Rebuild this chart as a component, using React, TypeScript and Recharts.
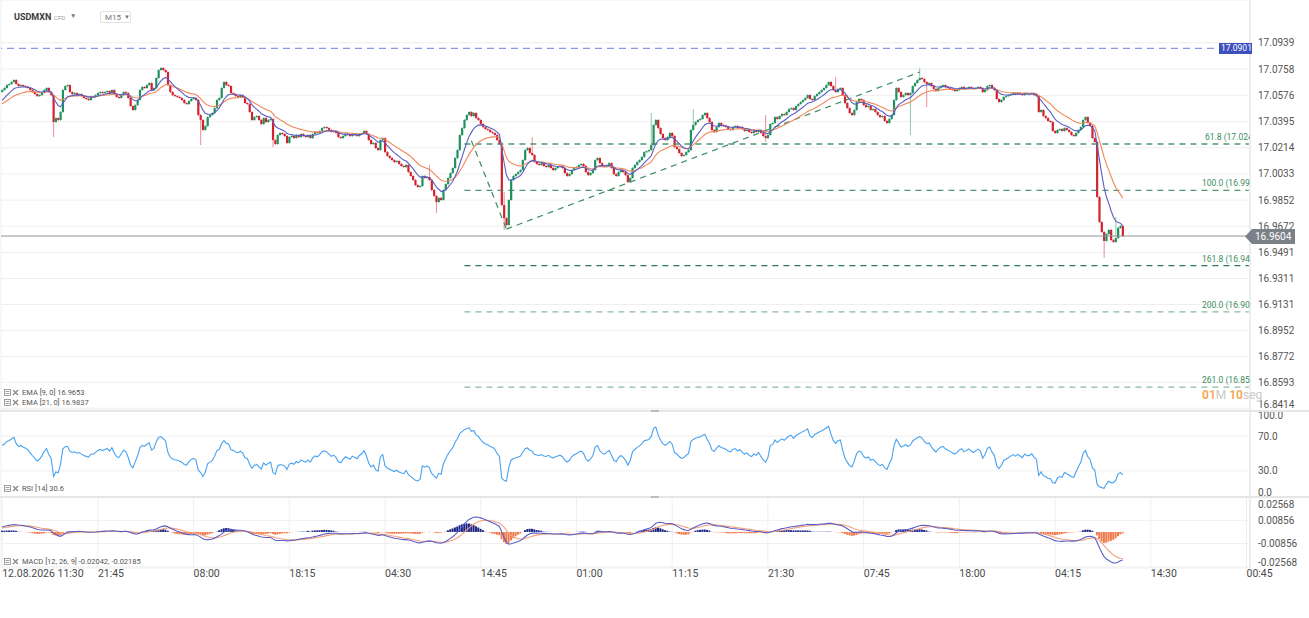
import { ComposedChart, Bar, Line, XAxis, YAxis, CartesianGrid, ReferenceLine, Cell } from 'recharts';

// USDMXN M15 closes, in 0.0001 above 16.9000
const closes = [
  1613, 1627, 1647, 1654, 1668, 1682, 1654, 1640, 1647, 1640,
  1634, 1627, 1613, 1599, 1585, 1571, 1578, 1592, 1613, 1627,
  1599, 1578, 1392, 1419, 1406, 1461, 1613, 1640, 1647, 1599,
  1585, 1592, 1578, 1585, 1571, 1558, 1551, 1544, 1565, 1565,
  1578, 1592, 1599, 1592, 1599, 1606, 1592, 1613, 1585, 1565,
  1558, 1578, 1599, 1592, 1558, 1502, 1475, 1509, 1544, 1613,
  1634, 1627, 1647, 1661, 1613, 1627, 1696, 1751, 1765, 1751,
  1737, 1647, 1599, 1578, 1571, 1565, 1558, 1544, 1523, 1516,
  1537, 1551, 1558, 1544, 1440, 1406, 1337, 1364, 1426, 1440,
  1454, 1488, 1544, 1558, 1627, 1668, 1647, 1640, 1592, 1585,
  1571, 1565, 1578, 1565, 1523, 1516, 1461, 1406, 1426, 1433,
  1406, 1378, 1419, 1392, 1406, 1413, 1267, 1240, 1302, 1316,
  1309, 1295, 1247, 1288, 1295, 1281, 1302, 1288, 1309, 1295,
  1288, 1302, 1281, 1309, 1323, 1316, 1330, 1350, 1357, 1350,
  1337, 1323, 1330, 1316, 1288, 1281, 1295, 1309, 1302, 1295,
  1309, 1302, 1295, 1309, 1316, 1330, 1309, 1267, 1240, 1247,
  1212, 1198, 1267, 1281, 1184, 1157, 1143, 1129, 1115, 1122,
  1102, 1088, 1081, 1095, 1046, 1019, 991, 956, 943, 950,
  1019, 1005, 1012, 991, 922, 881, 839, 867, 853, 922,
  963, 1005, 1039, 1074, 1143, 1198, 1302, 1350, 1406, 1440,
  1461, 1433, 1454, 1419, 1406, 1378, 1357, 1343, 1337, 1323,
  1316, 1302, 1267, 1240, 818, 728, 680, 853, 991, 1019,
  1032, 1046, 1060, 1129, 1198, 1212, 1178, 1164, 1115, 1102,
  1095, 1108, 1088, 1081, 1095, 1074, 1060, 1074, 1081, 1088,
  1074, 1039, 1019, 1032, 1060, 1074, 1081, 1095, 1102, 1088,
  1046, 1025, 1039, 1060, 1129, 1143, 1108, 1088, 1081, 1095,
  1108, 1074, 1032, 1019, 1046, 1060, 1046, 1025, 977, 1005,
  1074, 1095, 1115, 1129, 1150, 1184, 1190, 1198, 1233, 1371,
  1406, 1350, 1309, 1281, 1267, 1288, 1316, 1295, 1219, 1205,
  1178, 1157, 1164, 1184, 1198, 1337, 1371, 1392, 1406, 1413,
  1440, 1454, 1419, 1392, 1337, 1323, 1357, 1385, 1371, 1364,
  1357, 1343, 1337, 1357, 1364, 1350, 1357, 1343, 1330, 1337,
  1323, 1316, 1330, 1323, 1337, 1316, 1295, 1281, 1302, 1378,
  1385, 1426, 1413, 1433, 1447, 1440, 1461, 1481, 1488, 1475,
  1502, 1516, 1530, 1544, 1558, 1578, 1551, 1544, 1571, 1585,
  1599, 1613, 1627, 1647, 1668, 1640, 1613, 1599, 1620, 1627,
  1578, 1523, 1488, 1454, 1440, 1475, 1530, 1551, 1544, 1509,
  1495, 1502, 1475, 1481, 1461, 1440, 1426, 1433, 1399, 1385,
  1413, 1440, 1544, 1627, 1599, 1565, 1578, 1592, 1578, 1592,
  1640, 1661, 1682, 1696, 1689, 1668, 1654, 1661, 1640, 1620,
  1606, 1627, 1640, 1647, 1634, 1627, 1620, 1613, 1606, 1613,
  1627, 1634, 1620, 1627, 1634, 1627, 1620, 1627, 1634, 1627,
  1599, 1613, 1640, 1647, 1627, 1613, 1551, 1530, 1544, 1565,
  1571, 1578, 1585, 1592, 1585, 1592, 1585, 1578, 1592, 1585,
  1585, 1592, 1578, 1571, 1461, 1475, 1433, 1419, 1399, 1392,
  1330, 1316, 1337, 1343, 1330, 1350, 1337, 1323, 1302, 1295,
  1316, 1337, 1357, 1406, 1426, 1385, 1364, 1281, 1254, 874,
  701, 632, 570, 618, 646, 576, 563, 590, 660, 673, 604,
];
const firstOpen = 1600;

// long wicks seen on the chart: [candle, high, low] (same units, null = normal wick)
const spikes: [number, number | null, number | null][] = [
  [22, null, 1288], [85, null, 1233], [116, null, 1219], [183, 1095, null],
  [186, null, 763], [215, 908, 646], [227, 1288, null], [278, 1454, null],
  [296, 1481, null], [327, 1440, 1254], [357, 1703, null], [389, null, 1302],
  [393, 1765, null], [396, null, 1495], [472, null, 452], [477, 735, null],
];

const timeLabels = ['12.08.2026 11:30', '21:45', '08:00', '18:15', '04:30', '14:45', '01:00', '11:15', '21:30', '07:45', '18:00', '04:15', '14:30', '00:45'];
const timeTickIdx = [0, 41, 82, 123, 164, 205, 246, 287, 328, 369, 410, 451, 492, 533];

const priceTicks = [17.0939, 17.0758, 17.0576, 17.0395, 17.0214, 17.0033, 16.9852, 16.9672, 16.9491, 16.9311, 16.9131, 16.8952, 16.8772, 16.8593, 16.8414];
const rsiTicks = [0, 30, 70, 100];
const macdTicks = [0.02568, 0.00856, -0.00856, -0.02568];

const fibLevels = [
  { label: '61.8 (17.0240)', price: 17.024, color: '#3c8c63', opacity: 0.9, left: 1205 },
  { label: '100.0 (16.9920)', price: 16.992, color: '#3c8c63', opacity: 0.9, left: 1202 },
  { label: '161.8 (16.9400)', price: 16.94, color: '#2b7a53', opacity: 1, left: 1202 },
  { label: '200.0 (16.9080)', price: 16.908, color: '#3c8c63', opacity: 0.6, left: 1202 },
  { label: '261.0 (16.8560)', price: 16.856, color: '#3c8c63', opacity: 0.6, left: 1202 },
];
const fibStart = 198;
const trendDown = [{ i: 201, price: 17.0262 }, { i: 216, price: 16.9652 }];
const trendUp = [{ i: 216, price: 16.9652 }, { i: 393, price: 17.0737 }];

const alertPrice = 17.0901;
const lastPrice = 16.9604;

// indicator state just before the first visible candle
const seeds = { ema9: 1523, ema21: 1509, ema12: 1540, ema26: 1505, signal: 28, avgGain: 12, avgLoss: 9 };

const SLOTS = 535;
const WICK = 7;
const W = 1309;
const P = (v: number) => 16.9 + v / 10000;
const font = 'Roboto, sans-serif';
const pxOf = (price: number) => 69 + (17.0758 - price) / 0.000691;

const buildRows = () => {
  const spikeMap = new Map(spikes.map((s) => [s[0], s]));
  const k = (n: number) => 2 / (n + 1);
  let e9 = seeds.ema9, e21 = seeds.ema21, e12 = seeds.ema12, e26 = seeds.ema26, sig = seeds.signal;
  let ag = seeds.avgGain, al = seeds.avgLoss;
  const rows: any[] = [];
  for (let i = 0; i < SLOTS; i++) {
    if (i >= closes.length) {
      rows.push({ i });
      continue;
    }
    const c = closes[i];
    const o = i === 0 ? firstOpen : closes[i - 1];
    const s = spikeMap.get(i);
    const hi = s && s[1] != null ? s[1] : Math.max(o, c) + WICK;
    const lo = s && s[2] != null ? s[2] : Math.min(o, c) - WICK;
    e9 += (c - e9) * k(9);
    e21 += (c - e21) * k(21);
    e12 += (c - e12) * k(12);
    e26 += (c - e26) * k(26);
    const ch = c - o;
    ag = (ag * 13 + Math.max(ch, 0)) / 14;
    al = (al * 13 + Math.max(-ch, 0)) / 14;
    const macd = e12 - e26;
    sig += (macd - sig) * k(9);
    const hist = macd - sig;
    const faint = Math.abs(hist) < 8;
    const histColor = hist >= 0 ? (faint ? '#a3aadf' : '#1b2585') : faint ? '#f7b79c' : '#f07a4c';
    rows.push({
      i,
      open: P(o),
      close: P(c),
      range: [P(lo), P(hi)],
      ema9: P(e9),
      ema21: P(e21),
      rsi: 100 - 100 / (1 + ag / al),
      macd: macd / 10000,
      signal: sig / 10000,
      hist: hist / 10000,
      histColor,
    });
  }
  return rows;
};

const rows = buildRows();

const Candle = (props: any) => {
  const { x, y, width, height, payload } = props;
  if (!payload || payload.open == null || !height) return <g />;
  const [lo, hi] = payload.range;
  const r = height / (hi - lo);
  const cx = x + width / 2;
  const yO = y + (hi - payload.open) * r;
  const yC = y + (hi - payload.close) * r;
  const up = payload.close >= payload.open;
  const color = up ? '#1e915f' : '#d1222e';
  const top = Math.min(yO, yC);
  const h = Math.max(Math.abs(yO - yC), 1);
  return (
    <g>
      <line x1={cx} x2={cx} y1={y} y2={y + height} stroke={color} strokeOpacity={0.5} strokeWidth={1} />
      <rect x={cx - 1.1} y={top} width={2.2} height={h} fill={color} />
    </g>
  );
};

const PriceTick = ({ x, y, payload }: any) => (
  <text x={x} y={y} dy={payload.value === 16.8414 ? -0.5 : 3.5} fontSize={10} fill="#555" fontFamily={font}>
    {payload.value.toFixed(4)}
  </text>
);

const RsiTick = ({ x, y, payload }: any) => {
  const v = payload.value;
  const dy = v === 100 ? 9 : v === 0 ? -1.5 : 3.5;
  return (
    <text x={x} y={y} dy={dy} fontSize={10} fill="#555" fontFamily={font}>
      {v.toFixed(1)}
    </text>
  );
};

const MacdTick = ({ x, y, payload }: any) => {
  const v = payload.value;
  const dy = v === 0.02568 ? 10.5 : v === -0.02568 ? -0.5 : 3.5;
  return (
    <text x={x} y={y} dy={dy} fontSize={10} fill="#555" fontFamily={font}>
      {v.toFixed(5)}
    </text>
  );
};

const TimeTick = ({ x, y, payload }: any) => (
  <text x={x} y={y} dy={1} fontSize={10.5} fill="#4a4a4a" fontFamily={font}>
    {timeLabels[timeTickIdx.indexOf(payload.value)]}
  </text>
);

const Icons = () => (
  <svg width={15} height={7} style={{ marginRight: 3 }}>
    <rect x={0.5} y={0.5} width={6} height={6} fill="none" stroke="#888" strokeWidth={0.8} />
    <line x1={1.5} x2={5.5} y1={2.5} y2={2.5} stroke="#888" strokeWidth={0.8} />
    <line x1={1.5} x2={5.5} y1={4.5} y2={4.5} stroke="#888" strokeWidth={0.8} />
    <line x1={9} x2={14} y1={1} y2={6} stroke="#888" strokeWidth={1.2} />
    <line x1={14} x2={9} y1={1} y2={6} stroke="#888" strokeWidth={1.2} />
  </svg>
);

const Legend = ({ top, text }: { top: number; text: string }) => (
  <div style={{ position: 'absolute', left: 4, top, display: 'flex', alignItems: 'center', fontSize: 7.5, color: '#555', fontFamily: font, lineHeight: '9px', whiteSpace: 'nowrap' }}>
    <Icons />
    {text}
  </div>
);

const margin = { top: 0, right: 0, bottom: 0, left: 1 };
const gridStroke = '#efefef';

export default function App() {
  return (
    <div style={{ position: 'absolute', left: 0, top: 0, width: W, height: 618, background: '#fff', overflow: 'hidden', fontFamily: font }}>
      {/* price panel */}
      <div style={{ position: 'absolute', left: 0, top: 0 }}>
        <ComposedChart width={W} height={410} data={rows} margin={margin}>
          <CartesianGrid stroke={gridStroke} />
          <XAxis dataKey="i" scale="band" ticks={timeTickIdx} height={0} tick={false} tickLine={false} axisLine={false} interval={0} />
          <YAxis orientation="right" width={59} type="number" domain={[16.8402, 17.1235]} ticks={priceTicks} allowDataOverflow interval={0} tickLine={false} axisLine={{ stroke: '#e4e4e4' }} tick={<PriceTick />} />
          <ReferenceLine y={alertPrice} stroke="#8c95e8" strokeDasharray="7 5" strokeWidth={1.3} />
          <ReferenceLine y={lastPrice} stroke="#8d9298" strokeWidth={1} />
          {fibLevels.map((f) => (
            <ReferenceLine key={f.label} segment={[{ x: fibStart, y: f.price }, { x: SLOTS - 1, y: f.price }]} stroke={f.color} strokeOpacity={f.opacity} strokeDasharray="6 5" strokeWidth={1.3} />
          ))}
          <ReferenceLine segment={trendDown.map((p) => ({ x: p.i, y: p.price }))} stroke="#3c8c63" strokeDasharray="6 5" strokeWidth={1.2} />
          <ReferenceLine segment={trendUp.map((p) => ({ x: p.i, y: p.price }))} stroke="#3c8c63" strokeDasharray="6 5" strokeWidth={1.2} />
          <Bar dataKey="range" shape={<Candle />} isAnimationActive={false} />
          <Line dataKey="ema21" stroke="#f0875a" strokeWidth={1.1} dot={false} isAnimationActive={false} />
          <Line dataKey="ema9" stroke="#5a5ec4" strokeWidth={1.1} dot={false} isAnimationActive={false} />
        </ComposedChart>
      </div>

      {/* RSI panel */}
      <div style={{ position: 'absolute', left: 0, top: 410 }}>
        <ComposedChart width={W} height={87} data={rows} margin={margin}>
          <CartesianGrid stroke={gridStroke} />
          <XAxis dataKey="i" scale="band" ticks={timeTickIdx} height={0} tick={false} tickLine={false} axisLine={false} interval={0} />
          <YAxis orientation="right" width={59} type="number" domain={[0, 100]} ticks={rsiTicks} interval={0} tickLine={false} axisLine={{ stroke: '#e4e4e4' }} tick={<RsiTick />} />
          <Line dataKey="rsi" stroke="#48a2f0" strokeWidth={1.1} dot={false} isAnimationActive={false} />
        </ComposedChart>
      </div>

      {/* MACD panel */}
      <div style={{ position: 'absolute', left: 0, top: 497 }}>
        <ComposedChart width={W} height={93} data={rows} margin={margin} barCategoryGap={0}>
          <CartesianGrid stroke={gridStroke} />
          <XAxis dataKey="i" scale="band" ticks={timeTickIdx} height={22} tick={<TimeTick />} tickLine={false} axisLine={false} interval={0} />
          <YAxis orientation="right" width={59} type="number" domain={[-0.0265, 0.02568]} ticks={macdTicks} allowDataOverflow interval={0} tickLine={false} axisLine={{ stroke: '#e4e4e4' }} tick={<MacdTick />} />
          <Bar dataKey="hist" isAnimationActive={false}>
            {rows.map((r) => (
              <Cell key={r.i} fill={r.histColor || 'transparent'} />
            ))}
          </Bar>
          <Line dataKey="signal" stroke="#f4a07c" strokeWidth={1.1} dot={false} isAnimationActive={false} />
          <Line dataKey="macd" stroke="#5a5ec4" strokeWidth={1.1} dot={false} isAnimationActive={false} />
        </ComposedChart>
      </div>

      {/* panel separators */}
      <div style={{ position: 'absolute', left: 0, top: 410, width: W, height: 2, background: '#e6e6e6' }} />
      <div style={{ position: 'absolute', left: 651, top: 410, width: 8, height: 2, background: '#bdbdbd' }} />
      <div style={{ position: 'absolute', left: 0, top: 496, width: W, height: 2, background: '#e6e6e6' }} />
      <div style={{ position: 'absolute', left: 651, top: 496, width: 8, height: 2, background: '#bdbdbd' }} />

      {/* header */}
      <div style={{ position: 'absolute', left: 14, top: 12, fontSize: 9, fontWeight: 700, color: '#3a3a3a' }}>USDMXN</div>
      <div style={{ position: 'absolute', left: 54, top: 14, fontSize: 6, color: '#999' }}>CFD</div>
      <div style={{ position: 'absolute', left: 70, top: 12, fontSize: 6.5, color: '#777' }}>▼</div>
      <div style={{ position: 'absolute', left: 100, top: 11, width: 31, height: 12, border: '1px solid #e2e2e2', borderRadius: 2, boxSizing: 'border-box' }}>
        <span style={{ position: 'absolute', left: 4, top: 1, fontSize: 8, color: '#777' }}>M15</span>
        <span style={{ position: 'absolute', left: 23, top: 1, fontSize: 6, color: '#777' }}>▼</span>
      </div>

      {/* fib labels, clipped at the price axis */}
      <div style={{ position: 'absolute', left: 1150, top: 0, width: 100, height: 410, overflow: 'hidden' }}>
        {fibLevels.map((f) => (
          <div key={f.label} style={{ position: 'absolute', left: f.left - 1150, top: pxOf(f.price) - 12, fontSize: 8.5, color: '#3c8c63', whiteSpace: 'nowrap' }}>
            {f.label}
          </div>
        ))}
      </div>

      {/* alert price tag */}
      <div style={{ position: 'absolute', left: 1219, top: 43, width: 33, height: 11, background: '#3e4fbe', color: '#fff', fontSize: 8.5, lineHeight: '11px', paddingLeft: 2, overflow: 'hidden', whiteSpace: 'nowrap', boxSizing: 'border-box' }}>
        {alertPrice.toFixed(4)}
      </div>

      {/* last price tag */}
      <svg style={{ position: 'absolute', left: 1245, top: 229 }} width={50} height={15}>
        <polygon points="0,7.5 7,0 50,0 50,15 7,15" fill="#7b8188" />
        <text x={10} y={11} fontSize={10} fill="#fff" fontFamily={font}>{lastPrice.toFixed(4)}</text>
      </svg>

      {/* countdown */}
      <div style={{ position: 'absolute', left: 1202, top: 388, fontSize: 12, fontWeight: 700, whiteSpace: 'nowrap' }}>
        <span style={{ color: '#f7a960' }}>01</span>
        <span style={{ color: '#c9c9c9', fontWeight: 400 }}>M </span>
        <span style={{ color: '#f7a960' }}>10</span>
        <span style={{ color: '#c9c9c9', fontWeight: 400 }}>seg</span>
      </div>

      <Legend top={388} text="EMA [9, 0] 16.9653" />
      <Legend top={398} text="EMA [21, 0] 16.9837" />
      <Legend top={484} text="RSI [14] 30.6" />
      <Legend top={557} text="MACD [12, 26, 9] -0.02042, -0.02185" />
    </div>
  );
}
